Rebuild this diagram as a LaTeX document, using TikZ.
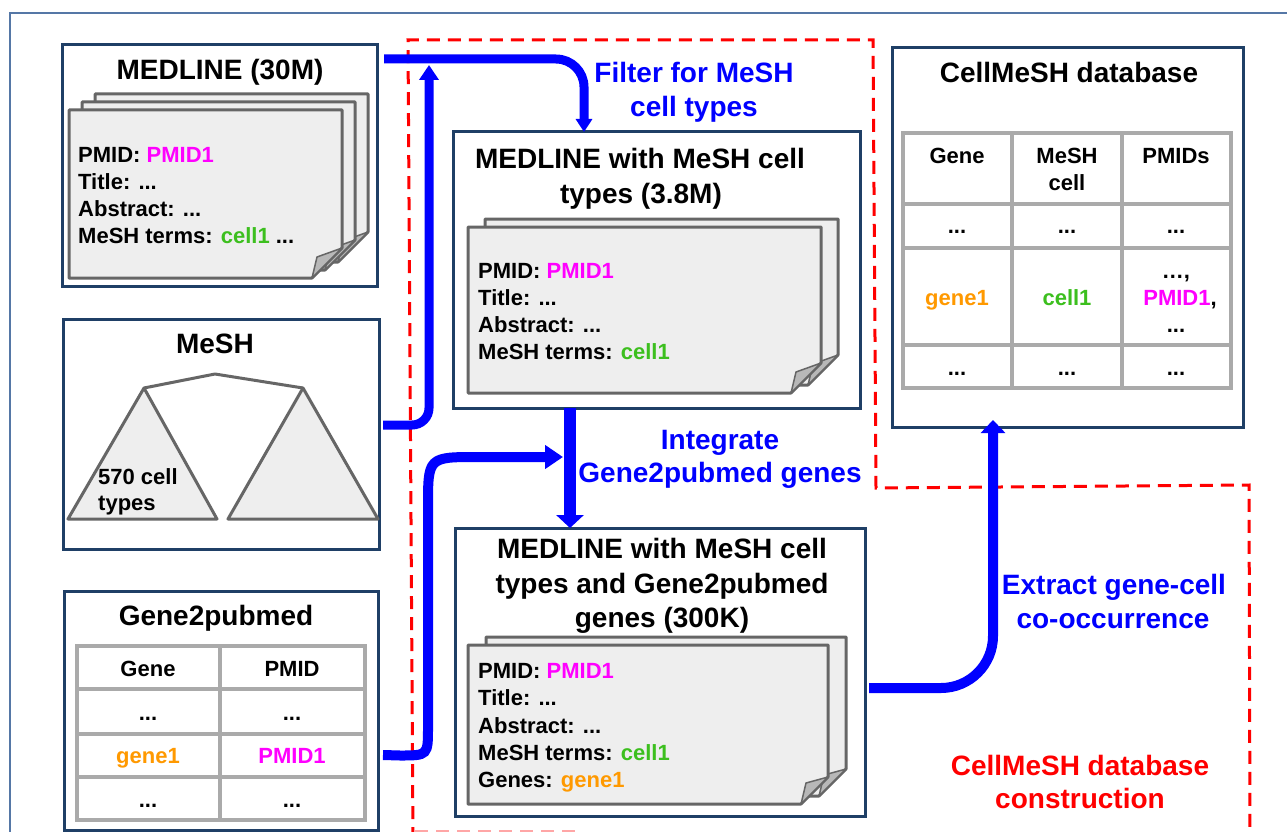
\documentclass[tikz,border=0pt]{standalone}
\usepackage{fontspec}
\setmainfont{Liberation Sans}
\usetikzlibrary{arrows.meta,calc}
\definecolor{navy}{HTML}{1F3F66}
\definecolor{mag}{HTML}{FF00FF}
\definecolor{grn}{HTML}{3CBF1E}
\definecolor{org}{HTML}{FF9900}
\definecolor{flowblue}{HTML}{0000FF}
\definecolor{docfill}{HTML}{EEEEEE}
\definecolor{docline}{HTML}{666666}
\definecolor{tblline}{HTML}{AAAAAA}
\definecolor{framec}{HTML}{5577A6}
\newcommand\docpg[5]{%
  \filldraw[docst] (#1,#2) -- (#3,#2) -- (#3,#4-#5) -- (#3-#5,#4) -- (#1,#4) -- cycle;
  \filldraw[flapst] (#3-#5,#4) -- (#3-#5+5,#4-21) -- (#3,#4-#5) -- cycle;}
\begin{document}
\begin{tikzpicture}[x=1pt,y=-1pt,
  box/.style={draw=navy,line width=3pt,inner sep=0pt,outer sep=0pt},
  docst/.style={draw=docline,fill=docfill,line width=3pt,line join=round},
  flapst/.style={draw=docline,fill=black!28,line width=1.5pt,line join=round},
  ttl/.style={anchor=base,inner sep=0pt,font=\bfseries\fontsize{28}{28}\selectfont},
  lbl/.style={ttl,text=flowblue},
  rlbl/.style={ttl,text=red},
  dtxt/.style={anchor=base west,inner sep=0pt,font=\bfseries\fontsize{22}{22}\selectfont},
  ctxt/.style={anchor=base,inner sep=0pt,font=\bfseries\fontsize{22}{22}\selectfont},
  tbl/.style={draw=tblline,line width=3.5pt},
  flow/.style={draw=flowblue,line width=10pt},
  reddash/.style={draw=red,line width=3pt,dash pattern=on 13pt off 8pt},
  outerframe/.style={draw=framec,line width=1.3pt}]
\useasboundingbox (0,0) rectangle (1287,832);
\fill[white] (0,0) rectangle (1287,832);
\draw[outerframe] (10,900) -- (10,13) -- (1300,13);

% red dashed region
\draw[reddash] (413,840) -- (408,40) -- (873,40) -- (876,488) -- (1249,485) -- (1250,840);
\draw[draw=red!35,line width=2pt,dash pattern=on 13pt off 8pt] (415,831) -- (575,831);

% ---------- boxes ----------
\node[box,minimum width=315pt,minimum height=241pt] (b1) at (219.5,165.5) {};
\node[box,minimum width=316pt,minimum height=230pt] (b2) at (221,434) {};
\node[box,minimum width=314pt,minimum height=239pt] (b3) at (221,710.5) {};
\node[box,minimum width=407pt,minimum height=276pt] (b4) at (656.5,270) {};
\node[box,minimum width=410pt,minimum height=288pt] (b5) at (660,672) {};
\node[box,minimum width=351pt,minimum height=379pt] (b6) at (1067.5,237.5) {};

% ---------- box 1 : MEDLINE (30M) ----------
\node[ttl] (t1) at (220,80) {MEDLINE (30M)};
\docpg{95}{94}{368}{262}{30}
\docpg{82}{102}{355}{270}{30}
\docpg{69}{110}{342}{278}{30}
\node[dtxt] (d1a) at (78,162) {PMID: \textcolor{mag}{PMID1}};
\node[dtxt] (d1b) at (78,189) {Title: ...};
\node[dtxt] (d1c) at (78,216) {Abstract: ...};
\node[dtxt] (d1d) at (78,243) {MeSH terms: \textcolor{grn}{cell1} ...};

% ---------- box 2 : MeSH ----------
\node[ttl] (t2) at (215,353) {MeSH};
\draw[docline,line width=3pt,line join=round] (144,388) -- (215,374) -- (303,388);
\filldraw[docst] (144,388) -- (217,519) -- (68,519) -- cycle;
\filldraw[docst] (303,388) -- (378,519) -- (228,519) -- cycle;
\node[dtxt] (m1) at (98,484) {570 cell};
\node[dtxt] (m2) at (98,510) {types};

% ---------- box 3 : Gene2pubmed ----------
\node[ttl] (t3) at (216,625) {Gene2pubmed};
\draw[tbl] (77,646) rectangle (365,820);
\draw[tbl] (220,646) -- (220,820);
\draw[tbl] (77,689) -- (365,689) (77,734) -- (365,734) (77,777) -- (365,777);
\node[ctxt] (g11) at (148,676) {Gene};
\node[ctxt] (g12) at (292,676) {PMID};
\node[ctxt] (g21) at (148,720) {...};
\node[ctxt] (g22) at (292,720) {...};
\node[ctxt] (g31) at (148,763) {\textcolor{org}{gene1}};
\node[ctxt] (g32) at (292,763) {\textcolor{mag}{PMID1}};
\node[ctxt] (g41) at (148,807) {...};
\node[ctxt] (g42) at (292,807) {...};

% ---------- box 4 : MEDLINE with MeSH cell types ----------
\node[ttl] (t4a) at (640,168) {MEDLINE with MeSH cell};
\node[ttl] (t4b) at (641,203) {types (3.8M)};
\docpg{485}{219}{838}{385}{30}
\docpg{468}{227}{821}{393}{30}
\node[dtxt] (d4a) at (478,278) {PMID: \textcolor{mag}{PMID1}};
\node[dtxt] (d4b) at (478,305) {Title: ...};
\node[dtxt] (d4c) at (478,332) {Abstract: ...};
\node[dtxt] (d4d) at (478,359) {MeSH terms: \textcolor{grn}{cell1}};

% ---------- box 5 ----------
\node[ttl] (t5a) at (662,558) {MEDLINE with MeSH cell};
\node[ttl] (t5b) at (662,593) {types and Gene2pubmed};
\node[ttl] (t5c) at (662,627) {genes (300K)};
\docpg{486}{637}{846}{796}{27}
\docpg{468}{645}{828}{804}{27}
\node[dtxt] (d5a) at (478,678) {PMID: \textcolor{mag}{PMID1}};
\node[dtxt] (d5b) at (478,705) {Title: ...};
\node[dtxt] (d5c) at (478,733) {Abstract: ...};
\node[dtxt] (d5d) at (478,760) {MeSH terms: \textcolor{grn}{cell1}};
\node[dtxt] (d5e) at (478,787) {Genes: \textcolor{org}{gene1}};

% ---------- box 6 : CellMeSH database ----------
\node[ttl] (t6) at (1069,83) {CellMeSH database};
\draw[tbl] (903,133) rectangle (1231,388);
\draw[tbl] (1012,133) -- (1012,388) (1122,133) -- (1122,388);
\draw[tbl] (903,204) -- (1231,204) (903,248) -- (1231,248) (903,345) -- (1231,345);
\node[ctxt] (c11) at (957,163) {Gene};
\node[ctxt] (c12) at (1067,163) {MeSH};
\node[ctxt] (c12b) at (1067,190) {cell};
\node[ctxt] (c13) at (1176,163) {PMIDs};
\node[ctxt] (c21) at (957,233) {...};
\node[ctxt] (c22) at (1067,233) {...};
\node[ctxt] (c23) at (1176,233) {...};
\node[ctxt] (c31) at (957,305) {\textcolor{org}{gene1}};
\node[ctxt] (c32) at (1067,305) {\textcolor{grn}{cell1}};
\node[ctxt] (c33a) at (1176,278) {…,};
\node[ctxt] (c33) at (1180,305) {\textcolor{mag}{PMID1},};
\node[ctxt] (c33b) at (1176,332) {...};
\node[ctxt] (c41) at (957,375) {...};
\node[ctxt] (c42) at (1067,375) {...};
\node[ctxt] (c43) at (1176,375) {...};

% ---------- labels ----------
\node[lbl] (l1a) at (694,83) {Filter for MeSH};
\node[lbl] (l1b) at (694,117) {cell types};
\node[lbl] (l2a) at (720,449) {Integrate};
\node[lbl] (l2b) at (720,482) {Gene2pubmed genes};
\node[lbl] (l3a) at (1114,594) {Extract gene-cell};
\node[lbl] (l3b) at (1113,628) {co-occurrence};
\node[rlbl] (l4a) at (1080,775) {CellMeSH database};
\node[rlbl] (l4b) at (1080,808) {construction};

% ---------- connectors ----------
\coordinate (a1s) at ($(b1.east)+(7,-106.5)$);
\coordinate (a2s) at ($(b2.east)+(4,-9)$);
\coordinate (a3s) at ($(b3.east)+(5,44.5)$);
\coordinate (a5s) at ($(b5.east)+(4,16)$);
\coordinate (a2e) at (429,65);
\coordinate (a3e) at (563,457);
\coordinate (a4x) at (570,0);
\coordinate (a5x) at (993,0);

\draw[flow,line width=9pt,rounded corners=28pt,-{Triangle[width=16pt,length=13pt]}]
  (a1s) -| ([xshift=-72.5pt]b4.north);
\draw[flow,line width=9pt,rounded corners=17pt,-{Triangle[width=19pt,length=15pt]}]
  (a2s) -| (a2e);
\draw[flow,-{Triangle[width=23pt,length=18pt]}]
  (a3s) -- (400,755.5) .. controls (428,755.5) .. (428,727) -- (428,507)
  .. controls (428,457) .. (478,457) -- (a3e);
\draw[flow,line width=12pt,-{Triangle[width=27pt,length=13pt]}]
  (b4.south -| a4x) -- (b5.north -| a4x);
\draw[flow,rounded corners=52pt,-{Triangle[width=24pt,length=13pt]}]
  (a5s) -| ([yshift=7pt]b6.south -| a5x);
\end{tikzpicture}
\end{document}
